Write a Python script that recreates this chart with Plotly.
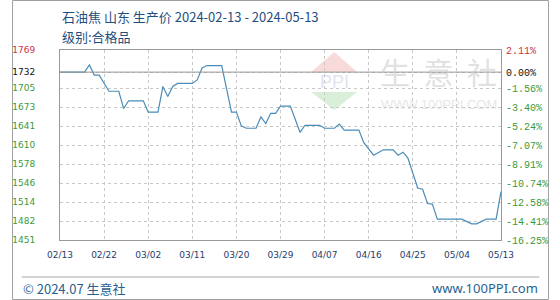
import plotly.graph_objects as go

# ---- data ----
dates = ["2024-02-13", "2024-02-18", "2024-02-19", "2024-02-20", "2024-02-21",
         "2024-02-23", "2024-02-25", "2024-02-26", "2024-02-27", "2024-03-01",
         "2024-03-02", "2024-03-04", "2024-03-05", "2024-03-06", "2024-03-07",
         "2024-03-08", "2024-03-11", "2024-03-12", "2024-03-13", "2024-03-14",
         "2024-03-17", "2024-03-19", "2024-03-20", "2024-03-21", "2024-03-22",
         "2024-03-24", "2024-03-25", "2024-03-26", "2024-03-27", "2024-03-28",
         "2024-03-29", "2024-03-31", "2024-04-02", "2024-04-03", "2024-04-06",
         "2024-04-07", "2024-04-09", "2024-04-10", "2024-04-11", "2024-04-14",
         "2024-04-15", "2024-04-17", "2024-04-19", "2024-04-21", "2024-04-22",
         "2024-04-23", "2024-04-24", "2024-04-26", "2024-04-27", "2024-04-28",
         "2024-04-29", "2024-04-30", "2024-05-05", "2024-05-07", "2024-05-08",
         "2024-05-10", "2024-05-12", "2024-05-13"]
prices = [1732, 1732, 1744, 1727, 1727,
          1700, 1700, 1671, 1684, 1684,
          1665, 1665, 1708, 1691, 1708,
          1713, 1713, 1719, 1739, 1743,
          1743, 1665, 1665, 1642, 1638,
          1638, 1657, 1646, 1663, 1663,
          1675, 1675, 1631, 1643, 1643,
          1638, 1638, 1645, 1635, 1635,
          1614, 1593, 1602, 1602, 1593,
          1598, 1588, 1538, 1536, 1512,
          1511, 1486, 1486, 1478, 1478,
          1486, 1486, 1532]

y_min, y_max, base_price = 1451, 1769, 1732
left_tick_labels = ["1451", "1482", "1514", "1546", "1578", "1610",
                    "1641", "1673", "1705", "1732", "1769"]
right_tick_labels = ["-16.25%", "-14.41%", "-12.58%", "-10.74%", "-8.91%", "-7.07%",
                     "-5.24%", "-3.40%", "-1.56%", "0.00%", "2.11%"]
x_start, x_end = "2024-02-13", "2024-05-13"
title_text = "石油焦 山东 生产价 2024-02-13 - 2024-05-13"
subtitle_text = "级别:合格品"
footer_left = "© 2024.07 生意社"
footer_right = "www.100PPI.com"

# ---- layout helpers (pixel -> paper) ----
W, H = 560, 300
L, R, T, B = 50, 50, 50, 60
PW, PH = W - L - R, H - T - B
def px(x):
    return (x - L) / PW
def py(y):
    return (H - B - y) / PH

step = (y_max - y_min) / 10
tickvals = [y_min + i * step for i in range(11)]
tickvals[9] = base_price
tickvals[10] = y_max

GREEN, RED, BLACK = "#3a9a3a", "#cc3340", "#111111"
def colored(labels):
    out = []
    for i, t in enumerate(labels):
        c = RED if i == len(labels) - 1 else (BLACK if i == len(labels) - 2 else GREEN)
        out.append(f"<span style='color:{c}'>{t}</span>")
    return out

fig = go.Figure()
fig.add_trace(go.Scatter(x=dates, y=prices, mode="lines",
                         line=dict(color="#4a8cb8", width=1.2),
                         hoverinfo="skip", showlegend=False))
fig.add_trace(go.Scatter(x=[dates[0]], y=[prices[0]], yaxis="y2", mode="lines",
                         line=dict(width=0), hoverinfo="skip", showlegend=False))

grid = dict(showgrid=True, gridcolor="#c8c8c8", griddash="dot", gridwidth=1)

fig.update_layout(
    width=W, height=H,
    margin=dict(l=L, r=R, t=T, b=B),
    paper_bgcolor="white", plot_bgcolor="white",
    xaxis=dict(type="date", range=[x_start, x_end], tick0=x_start,
               dtick=9 * 86400000, tickformat="%m/%d",
               tickfont=dict(family="DejaVu Sans", size=9, color="#1f4070"),
               showline=True, linecolor="#999999", mirror=True,
               ticks="", ticklabelstandoff=6, zeroline=False, **grid),
    yaxis=dict(range=[y_min, y_max], tickvals=tickvals, ticktext=colored(left_tick_labels),
               tickfont=dict(family="DejaVu Sans", size=9),
               showline=True, linecolor="#999999", mirror=True,
               ticks="", ticklabelstandoff=22, zeroline=False, **grid),
    yaxis2=dict(range=[y_min, y_max], tickvals=tickvals, ticktext=colored(right_tick_labels),
                overlaying="y", side="right", showgrid=False,
                tickfont=dict(family="Liberation Mono", size=10),
                ticks="", ticklabelstandoff=4, zeroline=False, showline=False),
)

shapes = []
# base-price line
shapes.append(dict(type="line", xref="paper", yref="y", x0=0, x1=1,
                   y0=base_price, y1=base_price, line=dict(color="#999999", width=1)))
# outer border
shapes.append(dict(type="rect", xref="paper", yref="paper",
                   x0=px(0.5), x1=px(W - 0.5), y0=py(0.5), y1=py(H - 0.5),
                   line=dict(color="#a0a0a0", width=1), layer="below"))
# footer rule
shapes.append(dict(type="line", xref="paper", yref="paper",
                   x0=px(10), x1=px(550), y0=py(277), y1=py(277),
                   line=dict(color="#a8a8a8", width=1)))
# watermark logo
def path(points):
    return "M " + " L ".join(f"{px(a)},{py(b)}" for a, b in points) + " Z"
shapes.append(dict(type="path", xref="paper", yref="paper",
                   path=path([(336, 52), (360, 72), (312, 72)]),
                   fillcolor="rgba(235,150,150,0.35)", line=dict(width=0), layer="below"))
shapes.append(dict(type="path", xref="paper", yref="paper",
                   path=path([(312, 92), (360, 92), (336, 110)]),
                   fillcolor="rgba(150,210,150,0.35)", line=dict(width=0), layer="below"))
fig.update_layout(shapes=shapes)

ann = []
ann.append(dict(text=title_text, x=px(50), y=py(16), xref="paper", yref="paper",
                xanchor="left", yanchor="middle", showarrow=False,
                font=dict(family="Noto Sans CJK SC", size=13, color="#1f4f80")))
ann.append(dict(text=subtitle_text, x=px(50), y=py(36), xref="paper", yref="paper",
                xanchor="left", yanchor="middle", showarrow=False,
                font=dict(family="Noto Sans CJK SC", size=13, color="#1f4f80")))
ann.append(dict(text=footer_left, x=px(9), y=py(288), xref="paper", yref="paper",
                xanchor="left", yanchor="middle", showarrow=False,
                font=dict(family="Noto Sans CJK SC", size=13, color="#2a5f90")))
ann.append(dict(text=footer_right, x=px(551), y=py(288), xref="paper", yref="paper",
                xanchor="right", yanchor="middle", showarrow=False,
                font=dict(family="Noto Sans", size=13, color="#2a5f90")))
ann.append(dict(text="生\u00a0\u00a0意\u00a0\u00a0社", x=px(445), y=py(71), xref="paper", yref="paper",
                xanchor="center", yanchor="middle", showarrow=False,
                font=dict(family="Noto Sans CJK SC", size=30, color="rgba(200,200,200,0.55)")))
ann.append(dict(text="WWW.100PPI.COM", x=px(445), y=py(104), xref="paper", yref="paper",
                xanchor="center", yanchor="middle", showarrow=False,
                font=dict(family="Liberation Sans", size=13, color="rgba(205,205,205,0.5)")))
ann.append(dict(text="PPI", x=px(336), y=py(82), xref="paper", yref="paper",
                xanchor="center", yanchor="middle", showarrow=False,
                font=dict(family="Liberation Sans", size=18, color="rgba(170,185,210,0.4)")))
fig.update_layout(annotations=ann)

fig.write_html("out.html")
